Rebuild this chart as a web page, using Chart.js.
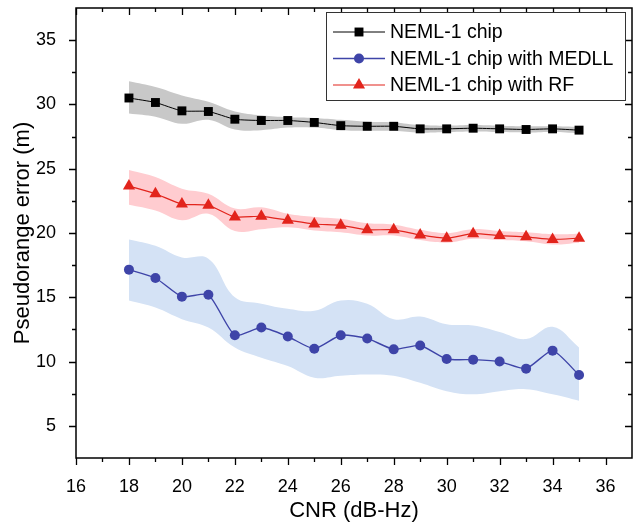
<!DOCTYPE html>
<html>
<head>
<meta charset="utf-8">
<script src="https://cdn.jsdelivr.net/npm/chart.js@4"></script>
<style>
  html, body { margin: 0; padding: 0; background: #fff; }
  #wrap { width: 640px; height: 528px; }
</style>
</head>
<body>
<div id="wrap"><canvas id="chart" width="640" height="528"></canvas></div>
<script>
// CNR values (dB-Hz)
var cnr = [18, 19, 20, 21, 22, 23, 24, 25, 26, 27, 28, 29, 30, 31, 32, 33, 34, 35];

// NEML-1 chip
var neml = [30.5, 30.15, 29.5, 29.45, 28.85, 28.75, 28.75, 28.6, 28.35, 28.3, 28.3, 28.1, 28.1, 28.15, 28.1, 28.05, 28.1, 28.0];
var nemlUpper = [31.8, 31.35, 30.7, 30.2, 29.45, 29.15, 29.0, 28.95, 28.8, 28.65, 28.6, 28.4, 28.35, 28.4, 28.35, 28.3, 28.3, 28.25];
var nemlLower = [29.3, 29.05, 28.5, 28.8, 28.05, 28.0, 28.2, 28.2, 28.0, 27.95, 27.95, 27.8, 27.85, 27.9, 27.85, 27.8, 27.85, 27.75];

// NEML-1 chip with MEDLL
var medll = [17.15, 16.5, 15.05, 15.2, 12.05, 12.65, 11.95, 11.0, 12.05, 11.8, 10.95, 11.25, 10.2, 10.15, 10.0, 9.45, 10.85, 8.95];
var medllUpper = [19.5, 19.0, 18.1, 18.0, 15.0, 14.5, 14.1, 13.95, 14.75, 14.5, 13.3, 13.5, 12.9, 12.8, 12.3, 11.75, 12.7, 11.1];
var medllLower = [14.75, 14.2, 13.3, 12.65, 11.1, 10.3, 9.65, 8.75, 8.9, 9.0, 8.9, 8.35, 7.7, 7.45, 7.7, 7.85, 7.45, 6.95];

// NEML-1 chip with RF
var rf = [23.65, 23.05, 22.25, 22.15, 21.25, 21.3, 21.0, 20.7, 20.6, 20.25, 20.25, 19.85, 19.6, 19.95, 19.8, 19.7, 19.5, 19.6];
var rfUpper = [24.9, 24.35, 23.45, 23.05, 21.9, 22.0, 21.5, 21.25, 21.1, 20.75, 20.65, 20.25, 20.0, 20.3, 20.15, 20.05, 19.9, 19.95];
var rfLower = [22.2, 21.75, 21.0, 21.5, 20.15, 20.3, 20.45, 20.2, 20.05, 19.8, 19.8, 19.45, 19.25, 19.55, 19.45, 19.35, 19.1, 19.25];

// axis ticks
var xTicks = [16, 18, 20, 22, 24, 26, 28, 30, 32, 34, 36];
var xMinor = [17, 19, 21, 23, 25, 27, 29, 31, 33, 35];
var yTicks = [5, 10, 15, 20, 25, 30, 35];
var yMinor = [7.5, 12.5, 17.5, 22.5, 27.5, 32.5];

var FONT = "'Liberation Sans', Arial, sans-serif";

function pts(ys) {
    return cnr.map(function(x, i) { return { x: x, y: ys[i] }; });
}

function lineSet(label, ys, color, style, radius, width) {
    return {
        label: label,
        data: pts(ys),
        borderColor: color,
        backgroundColor: color,
        borderWidth: width,
        pointStyle: style,
        pointRadius: radius,
        pointHoverRadius: radius,
        pointBorderWidth: 0,
        tension: 0.2,
        fill: false
    };
}

function bandSet(ys, fillColor, fillTo) {
    return {
        label: "",
        data: pts(ys),
        borderWidth: 0,
        borderColor: "rgba(0,0,0,0)",
        backgroundColor: fillColor,
        pointRadius: 0,
        tension: 0.4,
        fill: fillTo
    };
}

var series = [
    lineSet("NEML-1 chip", neml, "#000000", "rect", 6.3, 1),
    lineSet("NEML-1 chip with MEDLL", medll, "rgb(62,68,168)", "circle", 5, 1.4),
    lineSet("NEML-1 chip with RF", rf, "rgb(226,36,28)", "triangle", 7, 1.2)
];

var bands = [
    bandSet(nemlUpper, "rgb(200,200,200)", "+1"),
    bandSet(nemlLower, "rgb(200,200,200)", false),
    bandSet(medllUpper, "rgb(212,226,245)", "+1"),
    bandSet(medllLower, "rgb(212,226,245)", false),
    bandSet(rfUpper, "rgb(255,204,208)", "+1"),
    bandSet(rfLower, "rgb(255,204,208)", false)
];

// frame + tick marks (outward on bottom/left, inward on top/right)
var frameTicks = {
    id: "frameTicks",
    afterDraw: function(chart) {
        var ctx = chart.ctx;
        var a = chart.chartArea;
        var xs = chart.scales.x, ys = chart.scales.y;
        ctx.save();
        ctx.strokeStyle = "#000";
        ctx.lineWidth = 1.5;
        ctx.strokeRect(a.left, a.top, a.right - a.left, a.bottom - a.top);
        ctx.lineWidth = 1.3;
        function xt(v, len) {
            var p = Math.round(xs.getPixelForValue(v)) + 0.5;
            ctx.beginPath();
            ctx.moveTo(p, a.bottom); ctx.lineTo(p, a.bottom + len);
            ctx.moveTo(p, a.top); ctx.lineTo(p, a.top + len);
            ctx.stroke();
        }
        function yt(v, len) {
            var p = Math.round(ys.getPixelForValue(v)) + 0.5;
            ctx.beginPath();
            ctx.moveTo(a.left, p); ctx.lineTo(a.left - len, p);
            ctx.moveTo(a.right, p); ctx.lineTo(a.right - len, p);
            ctx.stroke();
        }
        xTicks.forEach(function(v) { xt(v, 7); });
        xMinor.forEach(function(v) { xt(v, 4); });
        yTicks.forEach(function(v) { yt(v, 7); });
        yMinor.forEach(function(v) { yt(v, 4); });
        ctx.restore();
    }
};

// legend box in the top-right corner of the plot
var boxLegend = {
    id: "boxLegend",
    afterDraw: function(chart) {
        var ctx = chart.ctx;
        var left = 326, top = 12, w = 299, h = 88;
        ctx.save();
        ctx.fillStyle = "#fff";
        ctx.fillRect(left, top, w, h);
        ctx.strokeStyle = "#333";
        ctx.lineWidth = 1;
        ctx.strokeRect(left + 0.5, top + 0.5, w, h);
        ctx.font = "19.5px " + FONT;
        ctx.textBaseline = "middle";
        ctx.textAlign = "left";
        series.forEach(function(s, i) {
            var y = top + 20 + i * 26.5;
            ctx.strokeStyle = s.borderColor;
            ctx.lineWidth = s.borderWidth;
            ctx.beginPath();
            ctx.moveTo(left + 7, y);
            ctx.lineTo(left + 59, y);
            ctx.stroke();
            ctx.fillStyle = s.backgroundColor;
            Chart.helpers.drawPoint(ctx, {
                pointStyle: s.pointStyle,
                radius: s.pointRadius,
                borderWidth: 0,
                rotation: 0
            }, left + 33, y);
            ctx.fillStyle = "#000";
            ctx.fillText(s.label, left + 64, y + 1);
        });
        ctx.restore();
    }
};

var ctx = document.getElementById("chart").getContext("2d");
var chart = new Chart(ctx, {
    type: "line",
    data: { datasets: series.concat(bands) },
    options: {
        responsive: false,
        animation: false,
        events: [],
        layout: { padding: { top: 8, right: 8, left: 0, bottom: 0 } },
        plugins: {
            legend: { display: false },
            tooltip: { enabled: false },
            filler: { propagate: false }
        },
        scales: {
            x: {
                type: "linear",
                min: 16,
                max: 37,
                grid: { display: false },
                border: { display: false },
                afterBuildTicks: function(axis) {
                    axis.ticks = xTicks.map(function(v) { return { value: v }; });
                },
                afterFit: function(axis) {
                    axis.height = 70;
                    axis.paddingLeft = 0;
                    axis.paddingRight = 0;
                },
                ticks: {
                    color: "#000",
                    padding: 10,
                    maxRotation: 0,
                    font: { family: FONT, size: 18 }
                },
                title: {
                    display: true,
                    text: "CNR (dB-Hz)",
                    color: "#000",
                    padding: { top: 4 },
                    font: { family: FONT, size: 22 }
                }
            },
            y: {
                min: 2.5,
                max: 37.5,
                grid: { display: false },
                border: { display: false },
                afterBuildTicks: function(axis) {
                    axis.ticks = yTicks.map(function(v) { return { value: v }; });
                },
                afterFit: function(axis) {
                    axis.width = 76;
                    axis.paddingTop = 0;
                    axis.paddingBottom = 0;
                },
                ticks: {
                    color: "#000",
                    padding: 12,
                    font: { family: FONT, size: 18 }
                },
                title: {
                    display: true,
                    text: "Pseudorange error (m)",
                    color: "#000",
                    padding: { top: 10, bottom: 0 },
                    font: { family: FONT, size: 22 }
                }
            }
        }
    },
    plugins: [frameTicks, boxLegend]
});
</script>
</body>
</html>
